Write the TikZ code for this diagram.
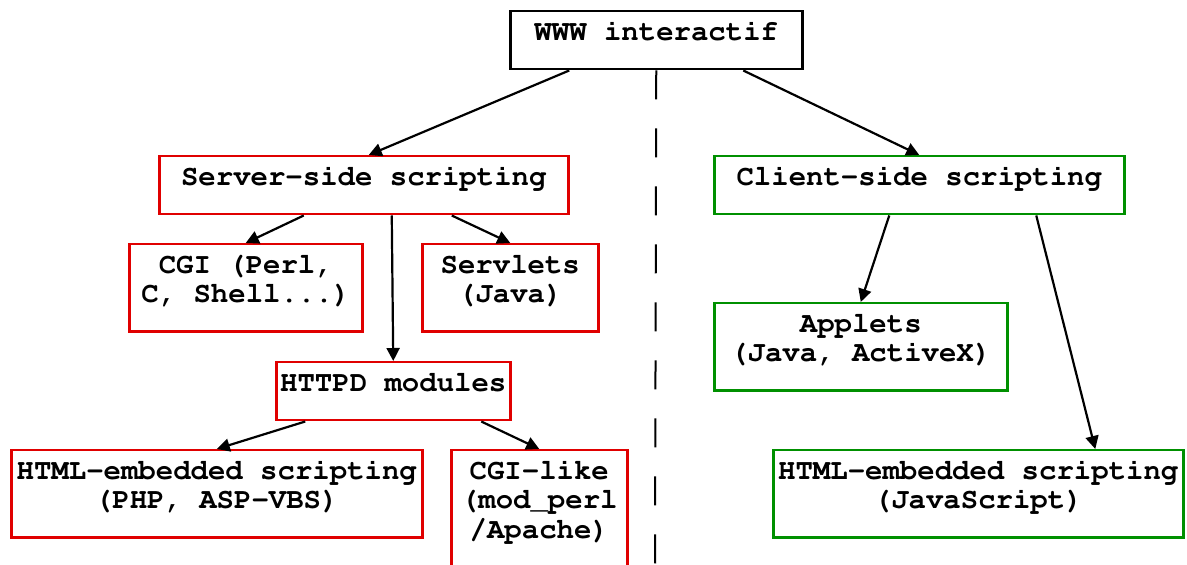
\documentclass[tikz,border=0pt]{standalone}
\usepackage[T1]{fontenc}
\usepackage{courier}
\usetikzlibrary{arrows.meta}

\definecolor{srvred}{RGB}{224,0,0}
\definecolor{cligreen}{RGB}{0,144,0}

\begin{document}
\begin{tikzpicture}[x=0.5pt, y=-0.5pt,
    box/.style={draw, line width=1.25pt, rectangle, anchor=north west, align=center,
                inner xsep=0pt, inner ysep=0pt, text height=14.5pt, text depth=14.5pt,
                font=\ttfamily\bfseries\fontsize{14.5}{14.75}\selectfont},
    twolines/.style={text height=29.25pt},
    threelines/.style={text height=44pt},
    redbox/.style={box, draw=srvred},
    greenbox/.style={box, draw=cligreen},
    arr/.style={-{Triangle[length=6.5pt,width=6.5pt]}, line width=1.1pt}]

                    \useasboundingbox (0,0) rectangle (1187,565);

                    \node[box, minimum width=146pt] (www) at (509,10) {WWW interactif};

                    \node[redbox, minimum width=204.5pt] (srv) at (158,155) {Server-side scripting};
                    \node[redbox, twolines, minimum width=116.5pt] (cgi) at (128,243) {CGI (Perl,\\C, Shell...)};
                    \node[redbox, twolines, minimum width=88pt] (servlets) at (421,243) {Servlets\\(Java)};
                    \node[redbox, minimum width=117pt] (httpd) at (275,361) {HTTPD modules};
                    \node[redbox, twolines, minimum width=205.5pt] (htmlphp) at (10,449) {HTML-embedded scripting\\(PHP, ASP-VBS)};
                    \node[redbox, threelines, minimum width=88pt] (cgilike) at (450,449) {CGI-like\\(mod\_perl\\/Apache)};

                    \node[greenbox, minimum width=205pt] (cli) at (713,155) {Client-side scripting};
                    \node[greenbox, twolines, minimum width=146.5pt] (applets) at (713,302) {Applets\\(Java, ActiveX)};
                    \node[greenbox, twolines, minimum width=205pt] (htmljs) at (772,449) {HTML-embedded scripting\\(JavaScript)};

                    \coordinate (split) at (655,565);
                    \draw[line width=1pt, dash pattern=on 14.5pt off 14.5pt] (www.south) -- (split);

                    \draw[arr] ([xshift=-43.5pt]www.south) -- ([xshift=2.5pt]srv.north);
                    \draw[arr] ([xshift=43.5pt]www.south) -- (cli.north);

                    \draw[arr] ([xshift=-30pt]srv.south) -- (cgi.north);
                    \draw[arr] ([xshift=14pt]srv.south) -- (httpd.north);
                    \draw[arr] ([xshift=44pt]srv.south) -- (servlets.north);
                    \draw[arr] ([xshift=-44pt]httpd.south) -- (htmlphp.north);
                    \draw[arr] ([xshift=44pt]httpd.south) -- (cgilike.north);

                    \draw[arr] ([xshift=-15pt]cli.south) -- (applets.north);
                    \draw[arr] ([xshift=58.5pt]cli.south) -- ([xshift=58.5pt]htmljs.north);
                \end{tikzpicture}
\end{document}
